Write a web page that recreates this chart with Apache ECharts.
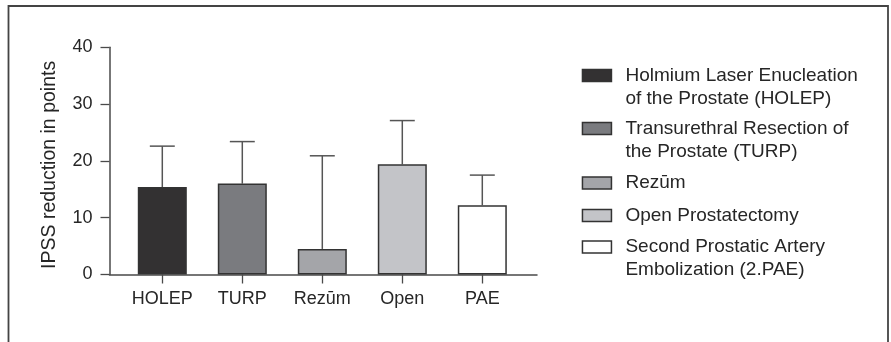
<!DOCTYPE html>
<html>
<head>
<meta charset="utf-8">
<script src="https://cdn.jsdelivr.net/npm/echarts@6/dist/echarts.min.js"></script>
<style>html,body{margin:0;padding:0;background:#fff}#c{width:891px;height:342px}</style>
</head>
<body>
<div id="c"></div>
<script>
const categories = ['HOLEP', 'TURP', 'Rezūm', 'Open', 'PAE'];
const means = [15.4, 16.0, 4.5, 19.4, 12.2];
const upperErr = [22.6, 23.4, 20.9, 27.1, 17.5];
const yTicks = [0, 10, 20, 30, 40];
const legendLines = [
  ['Holmium Laser Enucleation', 'of the Prostate (HOLEP)'],
  ['Transurethral Resection of', 'the Prostate (TURP)'],
  ['Rezūm'],
  ['Open Prostatectomy'],
  ['Second Prostatic Artery', 'Embolization (2.PAE)']
];
const barColors = ['#333132', '#7a7b7f', '#a4a5a9', '#c3c4c8', '#ffffff'];
const yTitle = 'IPSS reduction in points';

const FONT = "'Liberation Sans', Arial, sans-serif";
const TXT = '#262626';
const AX = '#4a4a4a';
const chart = echarts.init(document.getElementById('c'), null, {renderer: 'canvas'});

const seriesNames = legendLines.map(l => l.join(' '));
const iconCenters = [75.5, 128.5, 183, 215.5, 247];

const barSeries = seriesNames.map((name, i) => ({
  type: 'bar',
  name: name,
  xAxisIndex: 0, yAxisIndex: 0,
  stack: 'all',
  barWidth: 49,
  data: categories.map((c, j) => j === i ? means[j] : '-'),
  itemStyle: {color: barColors[i], borderColor: '#333', borderWidth: 1.5},
  emphasis: {disabled: true},
  z: 3
}));

const errSeries = {
  type: 'custom',
  xAxisIndex: 0, yAxisIndex: 0,
  z: 2,
  data: categories.map((c, i) => [i, means[i], upperErr[i]]),
  encode: {x: 0, y: [1, 2]},
  renderItem: function (params, api) {
    const x = api.value(0);
    const p0 = api.coord([x, api.value(1)]);
    const p1 = api.coord([x, api.value(2)]);
    const half = api.size([1, 0])[0] * 0.156;
    const st = {stroke: '#555', lineWidth: 1.5};
    return {
      type: 'group',
      children: [
        {type: 'line', shape: {x1: p0[0], y1: p0[1], x2: p1[0], y2: p1[1]}, style: st},
        {type: 'line', shape: {x1: p1[0] - half, y1: p1[1], x2: p1[0] + half, y2: p1[1]}, style: st}
      ]
    };
  }
};

const legends = legendLines.map((lines, i) => {
  const multi = lines.length > 1;
  return {
    data: [seriesNames[i]],
    orient: 'vertical',
    left: 581.7,
    top: iconCenters[i] - (multi ? 34.5 : 11.5),
    padding: 0,
    icon: 'rect',
    itemWidth: 29,
    itemHeight: 12,
    selectedMode: false,
    itemStyle: {borderColor: '#333', borderWidth: 1.5},
    formatter: () => (multi ? ' \n' : '') + lines.join('\n'),
    textStyle: {
      fontFamily: FONT, fontSize: 19, color: TXT, lineHeight: 23,
      padding: [0, 0, 0, 9]
    }
  };
});

chart.setOption({
  animation: false,
  backgroundColor: '#fff',
  graphic: [{
    type: 'rect',
    shape: {x: 8.5, y: 6, width: 879.5, height: 400},
    style: {fill: 'none', stroke: '#444', lineWidth: 1.8},
    silent: true
  }],
  grid: [
    {left: 122.3, top: 47.3, width: 400, height: 227.2},
    {left: 109.5, top: 47.3, width: 427.5, height: 227.2}
  ],
  xAxis: [
    {
      type: 'category', gridIndex: 0, data: categories,
      axisLine: {show: false},
      axisTick: {show: true, alignWithLabel: true, length: 9, lineStyle: {color: AX, width: 1.3}},
      axisLabel: {fontFamily: FONT, fontSize: 18, color: TXT, margin: 16}
    },
    {
      type: 'value', gridIndex: 1, min: 0, max: 1,
      axisLine: {show: true, onZero: false, lineStyle: {color: AX, width: 1.5}},
      axisTick: {show: false}, axisLabel: {show: false}, splitLine: {show: false}
    }
  ],
  yAxis: [
    {type: 'value', gridIndex: 0, min: 0, max: 40, interval: 10, show: false, splitLine: {show: false}},
    {
      type: 'value', gridIndex: 1, min: 0, max: 40, interval: 10,
      name: yTitle, nameLocation: 'middle', nameGap: 50,
      nameTextStyle: {fontFamily: FONT, fontSize: 19.5, color: TXT, padding: [0, 8, 0, 0]},
      axisLine: {show: true, lineStyle: {color: AX, width: 1.5}},
      axisTick: {show: true, length: 9, lineStyle: {color: AX, width: 1.3}},
      axisLabel: {fontFamily: FONT, fontSize: 18, color: TXT, margin: 17,
        formatter: v => yTicks.indexOf(v) >= 0 ? String(v) : ''},
      splitLine: {show: false}
    }
  ],
  legend: legends,
  series: barSeries.concat([errSeries])
});
</script>
</body>
</html>
